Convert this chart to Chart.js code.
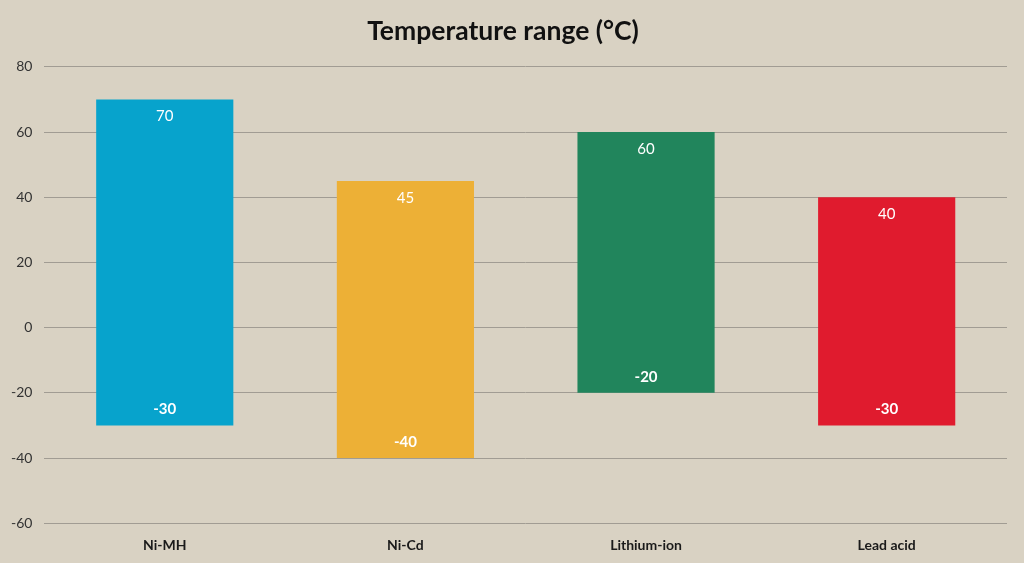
<!DOCTYPE html>
<html lang="en">
<head>
    <meta charset="UTF-8">
    <title>Temperature range</title>
    <script src="https://cdn.jsdelivr.net/npm/chart.js"></script>
    <style>
        html, body { margin: 0; padding: 0; background: #d9d2c3; }
        .chart-box { width: 1024px; height: 563px; }
    </style>
</head>
<body>
<div class="chart-box"><canvas id="chart"></canvas></div>
<script>
    const categories = ["Ni-MH", "Ni-Cd", "Lithium-ion", "Lead acid"];
    const minTemps = [-30, -40, -20, -30];
    const maxTemps = [70, 45, 60, 40];
    const barColors = ["#07a3cc", "#edb036", "#21855c", "#e01b2e"];

    // draws the max value near the top of each bar and the min value near the bottom
    const rangeLabels = {
        id: "rangeLabels",
        afterDatasetsDraw(chart) {
            const ctx = chart.ctx;
            const meta = chart.getDatasetMeta(0);
            ctx.save();
            ctx.fillStyle = "#ffffff";
            ctx.textAlign = "center";
            ctx.textBaseline = "middle";
            meta.data.forEach((bar, i) => {
                const top = Math.min(bar.y, bar.base);
                const bottom = Math.max(bar.y, bar.base);
                ctx.font = "15px Lato";
                ctx.fillText(maxTemps[i], bar.x, top + 17);
                ctx.font = "bold 15px Lato";
                ctx.fillText(minTemps[i], bar.x, bottom - 16);
            });
            ctx.restore();
        }
    };

    new Chart(document.getElementById("chart"), {
        type: "bar",
        data: {
            labels: categories,
            datasets: [{
                data: categories.map((c, i) => [minTemps[i], maxTemps[i]]),
                backgroundColor: barColors,
                borderWidth: 0,
                borderSkipped: false,
                categoryPercentage: 1,
                barPercentage: 0.57
            }]
        },
        options: {
            responsive: true,
            maintainAspectRatio: false,
            animation: false,
            layout: { padding: { left: -1, right: 17, bottom: 3, top: 0 } },
            plugins: {
                legend: { display: false },
                tooltip: { enabled: false },
                title: {
                    display: true,
                    text: "Temperature range (°C)",
                    color: "#111111",
                    font: { family: "Lato", size: 26.5, weight: "bold" },
                    padding: { top: 16, bottom: 19 }
                }
            },
            scales: {
                x: {
                    grid: { display: false },
                    border: { display: false },
                    ticks: {
                        color: "#1a1a1a",
                        padding: 6,
                        font: { family: "Lato", size: 14, weight: "bold" }
                    }
                },
                y: {
                    min: -60,
                    max: 80,
                    grid: { color: "#a19c93", lineWidth: 1, tickLength: 0 },
                    border: { display: false },
                    ticks: {
                        stepSize: 20,
                        color: "#333333",
                        padding: 12,
                        font: { family: "Lato", size: 14 }
                    }
                }
            }
        },
        plugins: [rangeLabels]
    });
</script>
</body>
</html>
